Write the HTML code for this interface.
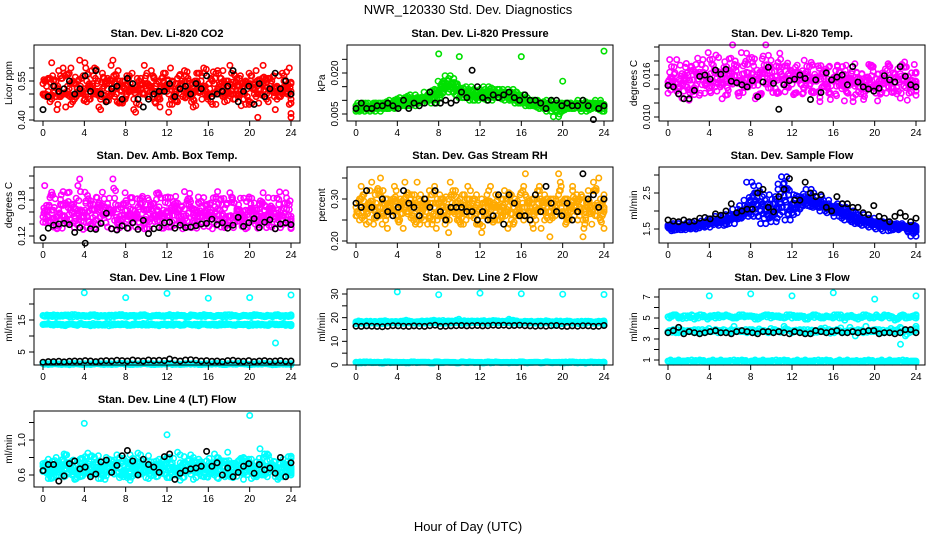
<!DOCTYPE html>
<html><head><meta charset="utf-8"><style>
body{margin:0;background:#fff}
svg{display:block;font-family:"Liberation Sans",Arial,sans-serif}
</style></head><body>
<svg id="c" width="936" height="540" viewBox="0 0 936 540" xmlns="http://www.w3.org/2000/svg">
<text x="468" y="14" text-anchor="middle" font-size="13">NWR_120330  Std. Dev. Diagnostics</text>
<text x="468" y="531" text-anchor="middle" font-size="13">Hour of Day (UTC)</text>
</svg>
<script>
// ---------- data ----------
const xTicks = [0,4,8,12,16,20,24];
const co2Red1 = [0.50,0.53,0.47,0.55,0.52,0.49,0.58,0.51,0.46,0.54,0.50,0.56,0.48,0.53,0.59,0.50,0.45,0.52,0.55,0.49,0.51,0.57,0.47,0.53,0.50,0.54,0.48,0.56,0.52,0.61,0.49,0.53,0.47,0.55,0.51,0.58,0.50,0.46,0.54,0.52,0.49,0.57,0.51,0.48,0.55,0.53,0.60,0.50,0.47,0.54,0.52,0.56,0.49,0.51,0.58,0.48,0.53,0.50,0.55,0.46,0.52,0.59,0.50,0.54,0.48,0.56,0.51,0.53,0.49,0.57,0.52,0.50];
const co2Red2 = [0.54,0.49,0.56,0.51,0.44,0.57,0.50,0.53,0.60,0.48,0.55,0.51,0.62,0.49,0.52,0.56,0.50,0.58,0.47,0.54,0.63,0.50,0.55,0.48,0.57,0.51,0.44,0.53,0.56,0.50,0.54,0.59,0.51,0.48,0.56,0.52,0.43,0.55,0.50,0.57,0.53,0.49,0.54,0.45,0.58,0.51,0.53,0.49,0.56,0.50,0.59,0.53,0.47,0.55,0.51,0.57,0.50,0.54,0.46,0.58,0.52,0.49,0.55,0.61,0.50,0.53,0.57,0.48,0.52,0.55,0.50,0.41];
const co2Black = [0.44,0.49,0.53,0.51,0.52,0.55,0.50,0.52,0.57,0.51,0.59,0.50,0.47,0.52,0.53,0.48,0.56,0.54,0.48,0.45,0.48,0.50,0.51,0.51,0.54,0.49,0.52,0.53,0.50,0.54,0.52,0.57,0.49,0.50,0.51,0.53,0.59,0.47,0.51,0.53,0.46,0.54,0.49,0.52,0.58,0.52,0.55,0.50];
const presGreen1 = [0.006,0.007,0.008,0.007,0.006,0.008,0.007,0.009,0.007,0.008,0.009,0.007,0.008,0.010,0.008,0.009,0.011,0.008,0.010,0.009,0.011,0.010,0.012,0.009,0.011,0.013,0.016,0.014,0.018,0.015,0.012,0.014,0.011,0.013,0.010,0.012,0.011,0.014,0.012,0.010,0.013,0.011,0.014,0.012,0.010,0.011,0.013,0.010,0.009,0.011,0.008,0.010,0.009,0.008,0.007,0.009,0.006,0.008,0.007,0.009,0.008,0.007,0.008,0.009,0.007,0.008,0.006,0.009,0.008,0.007,0.009,0.008];
const presGreen2 = [0.008,0.006,0.009,0.008,0.007,0.009,0.008,0.006,0.009,0.007,0.008,0.010,0.009,0.008,0.011,0.010,0.009,0.012,0.009,0.011,0.010,0.013,0.010,0.012,0.014,0.017,0.015,0.019,0.013,0.016,0.014,0.011,0.013,0.015,0.012,0.010,0.013,0.011,0.015,0.013,0.012,0.014,0.011,0.013,0.012,0.014,0.011,0.009,0.012,0.010,0.009,0.008,0.010,0.009,0.007,0.008,0.010,0.009,0.004,0.006,0.009,0.008,0.007,0.009,0.008,0.010,0.007,0.008,0.009,0.007,0.010,0.008];
const presOutHours = [8,10,16,20,24];
const presOutValues = [0.027,0.026,0.026,0.017,0.028];
const presBlack = [0.007,0.009,0.007,0.007,0.008,0.008,0.009,0.008,0.007,0.010,0.007,0.009,0.008,0.009,0.013,0.009,0.009,0.010,0.009,0.010,0.013,0.011,0.021,0.015,0.011,0.010,0.012,0.011,0.012,0.013,0.011,0.010,0.012,0.010,0.010,0.009,0.007,0.010,0.010,0.008,0.009,0.008,0.008,0.010,0.008,0.003,0.007,0.008];
const tempMag1 = [0.0150,0.0172,0.0141,0.0133,0.0162,0.0144,0.0124,0.0153,0.0175,0.0131,0.0164,0.0146,0.0182,0.0151,0.0137,0.0163,0.0171,0.0142,0.0184,0.0158,0.0134,0.0152,0.0176,0.0143,0.0161,0.0126,0.0155,0.0183,0.0147,0.0166,0.0135,0.0173,0.0191,0.0154,0.0145,0.0167,0.0132,0.0174,0.0156,0.0141,0.0165,0.0178,0.0153,0.0136,0.0162,0.0147,0.0171,0.0152,0.0133,0.0164,0.0145,0.0174,0.0151,0.0128,0.0163,0.0142,0.0125,0.0157,0.0172,0.0146,0.0161,0.0134,0.0155,0.0176,0.0143,0.0162,0.0137,0.0154,0.0171,0.0144,0.0152,0.0163];
const tempMag2 = [0.0134,0.0156,0.0163,0.0142,0.0127,0.0171,0.0153,0.0136,0.0145,0.0164,0.0182,0.0152,0.0137,0.0174,0.0155,0.0143,0.0166,0.0132,0.0154,0.0175,0.0148,0.0192,0.0144,0.0163,0.0185,0.0157,0.0131,0.0162,0.0203,0.0172,0.0151,0.0135,0.0164,0.0146,0.0173,0.0154,0.0132,0.0165,0.0147,0.0181,0.0152,0.0136,0.0161,0.0173,0.0142,0.0165,0.0134,0.0153,0.0166,0.0145,0.0172,0.0137,0.0156,0.0122,0.0164,0.0143,0.0133,0.0152,0.0174,0.0146,0.0123,0.0155,0.0162,0.0144,0.0136,0.0161,0.0153,0.0175,0.0142,0.0134,0.0151,0.0147];
const tempBlack = [0.0145,0.0143,0.0133,0.0126,0.0126,0.0138,0.0158,0.0160,0.0154,0.0167,0.0161,0.0168,0.0151,0.0149,0.0146,0.0143,0.0152,0.0129,0.0150,0.0171,0.0148,0.0111,0.0146,0.0152,0.0154,0.0160,0.0155,0.0125,0.0153,0.0135,0.0163,0.0153,0.0157,0.0160,0.0146,0.0172,0.0150,0.0143,0.0140,0.0137,0.0141,0.0159,0.0153,0.0150,0.0172,0.0158,0.0146,0.0143];
const boxMag1 = [0.152,0.171,0.143,0.163,0.132,0.181,0.154,0.141,0.172,0.134,0.162,0.151,0.193,0.145,0.164,0.133,0.172,0.156,0.142,0.183,0.161,0.131,0.153,0.174,0.144,0.165,0.152,0.182,0.135,0.163,0.146,0.171,0.155,0.162,0.133,0.184,0.151,0.143,0.175,0.164,0.132,0.154,0.181,0.145,0.163,0.152,0.136,0.173,0.154,0.142,0.165,0.182,0.134,0.153,0.176,0.143,0.162,0.151,0.132,0.185,0.164,0.145,0.172,0.153,0.134,0.161,0.183,0.142,0.155,0.174,0.146,0.133];
const boxMag2 = [0.143,0.162,0.184,0.135,0.152,0.173,0.146,0.192,0.164,0.153,0.204,0.145,0.163,0.182,0.136,0.154,0.175,0.193,0.142,0.165,0.215,0.151,0.134,0.172,0.163,0.184,0.143,0.156,0.174,0.132,0.183,0.165,0.144,0.192,0.153,0.176,0.135,0.164,0.186,0.152,0.144,0.173,0.191,0.155,0.133,0.162,0.184,0.146,0.175,0.153,0.194,0.135,0.166,0.143,0.185,0.154,0.172,0.136,0.163,0.182,0.145,0.156,0.174,0.192,0.143,0.165,0.152,0.183,0.134,0.166,0.175,0.144];
const boxBlack = [0.117,0.133,0.138,0.140,0.141,0.139,0.126,0.134,0.108,0.132,0.131,0.141,0.158,0.132,0.130,0.137,0.133,0.142,0.131,0.146,0.124,0.132,0.134,0.142,0.143,0.133,0.138,0.134,0.135,0.137,0.140,0.141,0.148,0.139,0.142,0.133,0.138,0.151,0.136,0.142,0.149,0.134,0.143,0.147,0.132,0.140,0.142,0.139];
const rhOrange1 = [0.28,0.25,0.31,0.27,0.29,0.24,0.32,0.28,0.26,0.30,0.27,0.33,0.25,0.29,0.28,0.31,0.26,0.24,0.30,0.28,0.27,0.32,0.25,0.29,0.27,0.30,0.26,0.28,0.31,0.25,0.29,0.27,0.33,0.26,0.28,0.24,0.30,0.27,0.29,0.25,0.31,0.28,0.26,0.30,0.24,0.28,0.27,0.31,0.25,0.29,0.28,0.26,0.32,0.27,0.25,0.30,0.28,0.26,0.31,0.29,0.24,0.28,0.33,0.27,0.30,0.25,0.29,0.28,0.32,0.26,0.30,0.27];
const rhOrange2 = [0.26,0.30,0.27,0.24,0.32,0.28,0.26,0.35,0.29,0.23,0.27,0.30,0.26,0.28,0.34,0.27,0.31,0.29,0.25,0.27,0.30,0.26,0.29,0.23,0.31,0.28,0.25,0.34,0.27,0.29,0.24,0.31,0.28,0.26,0.30,0.27,0.22,0.29,0.32,0.26,0.28,0.25,0.30,0.27,0.31,0.24,0.29,0.26,0.33,0.28,0.25,0.30,0.27,0.23,0.31,0.29,0.26,0.28,0.36,0.27,0.30,0.25,0.32,0.28,0.26,0.21,0.30,0.27,0.34,0.29,0.25,0.28];
const rhBlack = [0.29,0.28,0.32,0.28,0.26,0.30,0.27,0.26,0.28,0.32,0.29,0.28,0.26,0.30,0.28,0.32,0.27,0.25,0.28,0.28,0.28,0.27,0.27,0.25,0.27,0.25,0.26,0.31,0.24,0.31,0.29,0.26,0.26,0.25,0.31,0.27,0.33,0.29,0.27,0.26,0.29,0.25,0.27,0.36,0.30,0.31,0.28,0.30];
const flowBlue1 = [1.55,1.50,1.60,1.52,1.58,1.48,1.62,1.55,1.60,1.53,1.65,1.58,1.70,1.62,1.75,1.68,1.72,1.80,1.75,1.85,1.78,1.90,2.00,1.85,2.10,2.30,2.70,2.40,2.00,1.80,2.20,1.70,1.90,2.60,2.95,2.30,1.90,2.20,2.10,2.25,2.35,2.20,2.30,2.15,2.25,2.10,2.20,2.05,2.15,1.95,2.00,2.10,1.85,1.90,1.80,1.85,1.70,1.75,1.65,1.80,1.60,1.65,1.55,1.70,1.58,1.62,1.52,1.60,1.55,1.58,1.50,1.55];
const flowBlue2 = [1.60,1.45,1.55,1.65,1.48,1.58,1.52,1.68,1.50,1.62,1.58,1.72,1.55,1.78,1.65,1.85,1.60,1.70,1.90,1.65,2.05,1.80,2.15,1.95,2.80,2.05,1.85,2.20,1.65,2.45,1.90,2.05,2.20,2.75,2.10,1.75,2.45,1.95,2.35,2.40,2.15,2.60,2.25,2.10,2.40,2.00,2.30,1.95,2.10,1.85,2.20,1.95,1.75,2.00,1.70,1.65,1.90,1.60,1.75,1.55,1.70,1.50,1.68,1.45,1.62,1.55,1.48,1.65,1.52,1.60,1.45,1.30];
const flowBlack = [1.75,1.72,1.70,1.75,1.70,1.72,1.80,1.82,1.78,1.92,1.88,2.00,2.20,1.95,2.00,2.05,2.05,2.50,2.60,2.10,1.98,2.40,2.60,2.90,2.30,2.30,2.80,2.50,2.40,2.45,2.10,2.00,2.40,2.20,2.20,2.10,2.10,1.95,1.90,2.15,1.85,1.80,1.70,1.85,1.95,1.85,1.70,1.80];
const l1High = [16.4,16.1,16.6,16.2,16.5,16.0,16.7,16.3,16.1,16.6,16.2,16.4,16.0,16.5,16.3,16.7,16.1,16.4,16.2,16.6,16.0,16.3,16.5,16.1,16.7,16.2,16.4,16.0,16.6,16.3,16.1,16.5,16.2,16.4,16.0,16.6,16.3,16.1,16.5,16.2,16.7,16.4,16.0,16.3,16.6,16.1,16.4,16.2];
const l1Low = [13.6,13.9,13.4,13.7,13.3,13.8,13.5,13.9,13.6,13.2,13.7,13.5,13.9,13.4,13.6,13.8,13.3,13.7,13.5,13.9,13.4,13.6,13.2,13.8,13.5,13.7,13.3,13.9,13.6,13.4,13.8,13.5,13.7,13.3,13.9,13.6,13.4,13.8,13.5,13.2,13.7,13.6,13.4,13.8,13.5,13.7,13.3,13.6];
const l1Bottom = [1.3,1.1,1.4,1.2,1.3,1.0,1.4,1.2,1.3,1.1,1.4,1.2,1.3,1.1,1.2,1.4,1.3,1.1,1.2,1.4,1.3,1.1,1.2,1.3,1.4,1.2,1.1,1.3,1.2,1.4,1.1,1.3,1.2,1.4,1.1,1.3,1.2,1.4,1.3,1.1,1.2,1.3,1.4,1.2,1.1,1.3,1.2,1.3];
const l1OutHours = [4,8,12,16,20,22.5,24];
const l1OutValues = [23.5,22.0,23.3,21.8,22.0,7.8,22.8];
const l1Black = [1.8,2.0,2.0,2.1,1.9,2.1,2.2,2.1,2.3,2.2,2.0,2.2,2.3,2.2,2.4,2.3,2.2,2.5,2.3,2.2,2.5,2.3,2.4,2.3,2.8,2.4,2.2,2.5,2.6,2.4,2.2,2.3,2.1,2.2,2.0,2.3,2.4,2.2,2.1,2.3,2.0,2.2,2.3,2.1,2.2,2.3,2.1,2.2];
const l2Band1 = [18.2,17.6,18.5,17.8,18.1,17.5,18.4,17.9,18.2,17.6,18.6,17.8,18.3,17.7,18.5,18.0,17.6,18.4,17.8,18.9,17.7,18.3,18.6,17.9,18.2,17.6,18.8,17.8,18.4,19.3,18.0,17.7,18.5,17.9,18.3,17.6,18.7,17.8,18.1,17.5,18.6,17.9,18.2,17.7,18.5,17.6,17.9,16.8];
const l2Band2 = [17.5,18.4,17.8,18.2,17.6,18.5,17.9,18.3,17.7,18.6,17.8,18.1,17.6,18.4,17.8,18.7,18.2,17.7,18.5,18.0,18.4,17.8,18.1,18.6,17.7,18.4,18.0,18.6,17.9,18.3,18.7,18.1,17.8,18.4,17.7,18.5,17.9,18.2,18.6,17.8,18.3,17.6,18.4,17.9,18.2,17.8,18.5,18.0];
const l2Bottom = [1.2,0.9,1.3,1.0,1.2,0.8,1.3,1.1,1.0,1.2,0.9,1.3,1.1,1.2,0.9,1.3,1.0,1.2,1.1,0.9,1.3,1.0,1.2,1.1,0.9,1.3,1.0,1.2,1.1,0.9,1.2,1.3,1.0,1.1,1.2,0.9,1.3,1.0,1.1,1.2,1.0,1.3,0.9,1.1,1.2,1.0,1.2,1.1];
const l2OutHours = [4,8,12,16,20,24];
const l2OutValues = [30.9,29.7,30.4,30.1,29.9,29.8];
const l2Black = [16.4,16.3,16.5,16.4,16.3,16.2,16.4,16.6,16.5,16.4,16.3,16.5,16.4,16.3,16.6,16.8,16.3,16.4,16.5,16.6,16.7,16.5,16.6,16.7,16.5,16.6,16.8,16.7,16.8,16.6,16.7,16.8,16.6,16.5,16.4,16.5,16.4,16.6,16.7,16.4,16.3,16.5,16.4,16.6,16.5,16.3,16.4,16.7];
const l3High = [5.1,5.3,5.0,5.2,5.1,4.9,5.3,5.1,5.2,5.0,5.2,5.3,5.1,5.0,5.3,5.2,5.1,4.9,5.2,5.3,5.1,5.2,5.0,5.3,5.1,5.2,4.9,5.1,5.3,5.0,5.2,5.1,5.3,5.0,5.2,5.1,4.9,5.3,5.2,5.0,5.1,5.3,5.0,4.8,5.2,5.0,5.1,5.3];
const l3Mid = [3.7,3.9,3.6,3.8,3.7,3.9,3.6,3.8,3.7,3.9,3.8,3.6,3.9,3.7,3.8,3.6,3.9,3.7,3.8,3.6,3.9,3.7,4.2,3.8,3.7,3.9,3.6,3.8,3.7,4.0,3.8,3.7,3.9,3.6,3.8,3.7,3.9,3.6,3.8,3.7,3.9,3.6,3.8,3.7,4.1,3.3,3.8,4.2];
const l3Bottom = [0.9,0.8,1.0,0.9,0.8,0.9,1.0,0.8,0.9,0.8,1.0,0.9,0.8,0.9,1.0,0.8,0.9,0.8,1.0,0.9,0.8,0.9,1.0,0.8,0.9,0.8,1.0,0.9,0.8,0.9,1.0,0.8,0.9,0.8,1.0,0.9,0.8,0.9,1.0,0.8,0.9,0.8,1.0,0.9,0.8,0.9,0.9,0.8];
const l3OutHours = [4,8,12,16,20,22.5,24];
const l3OutValues = [7.1,7.3,7.1,7.4,6.8,2.5,7.1];
const l3Black = [3.6,3.8,4.1,3.5,3.7,3.6,3.5,3.6,3.7,3.8,3.6,3.6,3.5,3.7,3.8,3.7,3.6,3.5,3.7,3.7,3.6,3.7,3.6,3.5,3.7,3.6,3.5,3.5,3.8,3.7,3.6,3.7,3.8,3.6,3.6,3.7,3.6,3.7,3.8,3.8,3.5,3.6,3.6,3.5,3.6,3.9,3.9,3.6];
const l4Cyan1 = [0.70,0.62,0.75,0.66,0.58,0.72,0.64,0.78,0.68,0.60,0.74,0.66,0.80,0.70,0.62,0.76,0.67,0.59,0.73,0.65,0.82,0.70,0.63,0.77,0.68,0.60,0.74,0.66,0.71,0.57,0.75,0.67,0.62,0.79,0.69,0.61,0.73,0.66,0.80,0.70,0.58,0.74,0.65,0.77,0.69,0.62,0.72,0.66];
const l4Cyan2 = [0.64,0.78,0.58,0.71,0.84,0.66,0.55,0.74,0.62,0.81,0.69,0.56,0.72,0.65,0.83,0.60,0.73,0.68,0.85,0.63,0.56,0.75,0.69,0.61,0.80,0.66,0.54,0.72,0.83,0.64,0.59,0.76,0.68,0.57,0.74,0.86,0.63,0.71,0.55,0.78,0.67,0.61,0.84,0.70,0.58,0.73,0.65,0.79];
const l4Cyan3 = [0.73,0.56,0.68,0.60,0.76,0.70,0.63,0.58,0.81,0.66,0.72,0.62,0.59,0.77,0.71,0.64,0.57,0.79,0.62,0.72,0.66,0.60,0.78,0.71,0.57,0.64,0.83,0.69,0.61,0.75,0.66,0.58,0.72,0.80,0.63,0.68,0.57,0.76,0.65,0.73,0.62,0.79,0.60,0.66,0.75,0.58,0.70,0.63];
const l4OutHours = [4,12,20,21];
const l4OutValues = [1.19,1.06,1.28,0.90];
const l4Black = [0.65,0.72,0.72,0.53,0.59,0.73,0.76,0.67,0.69,0.58,0.61,0.75,0.77,0.63,0.71,0.82,0.88,0.76,0.60,0.78,0.72,0.69,0.63,0.81,0.84,0.55,0.62,0.65,0.67,0.68,0.70,0.87,0.70,0.74,0.60,0.68,0.58,0.63,0.70,0.73,0.62,0.72,0.66,0.68,0.62,0.80,0.58,0.74];

// ---------- panel layout ----------
const NS = 'http://www.w3.org/2000/svg';
const svg = document.getElementById('c');
const colLeft = [34,347,659], rowTop = [45,167,289,411], W = 266, H = 76;
function mk(tag, attrs, parent){
  const e = document.createElementNS(NS, tag);
  for (const k in attrs) e.setAttribute(k, attrs[k]);
  (parent||svg).appendChild(e);
  return e;
}
function panel(p){
  const L = colLeft[p.col], T = rowTop[p.row], B = T + H;
  const g = mk('g', {});
  
  
  const xs = h => L + 9 + h * 248 / 24;
  const ys = v => p.y0 + (v - p.v0) * (p.y1 - p.y0) / (p.v1 - p.v0);
  const t = mk('text', {x: L + W/2, y: T - 8, 'text-anchor':'middle', 'font-size':11, 'font-weight':'bold'}, g);
  t.textContent = p.title;
  
  
  // series: dense colored series are drawn several times, each pass sampling
  // a different (nearby) index of the same data array at interleaved hours
  const drawSet = (vals, hours, color, nm, passes, shift) => {
    const sg = mk('g', {fill:'none', stroke:color, 'stroke-width':1.6}, g);
    
    
    const n = vals.length;
    for (let k = 0; k < passes; k++) {
      vals.forEach((_, i) => {
        const h = hours ? hours[i] : Math.min(24, (i + k / passes) * 24 / (n - 1));
        const j = (i + k * shift) % n;
        const v = k % 2 ? (vals[i] + vals[j]) / 2 : vals[j];
        const c = mk('circle', {cx: xs(h).toFixed(1), cy: ys(v).toFixed(1), r: 2.7}, sg);
        
        
      });
    }
  };
  p.series.forEach(s => {
    const dense = !s.hours && s.color !== BLK;
    drawSet(s.values, s.hours, s.color, p.id + '-' + s.name, dense ? 4 : 1, p.shift || 1);
  });
  // box
  const bx = mk('rect', {x:L, y:T, width:W, height:H, fill:'none', stroke:'#000', 'stroke-width':1}, g);
  
  
  // x axis
  xTicks.forEach(h => {
    mk('line', {x1:xs(h), x2:xs(h), y1:B, y2:B+5, stroke:'#000'}, g);
    const tl = mk('text', {x:xs(h), y:B+15, 'text-anchor':'middle', 'font-size':10}, g);
    tl.textContent = h;
    
    
  });
  // y axis
  p.yTicks.forEach(v => mk('line', {x1:L-5, x2:L, y1:ys(v), y2:ys(v), stroke:'#000'}, g));
  p.yLabelValues.forEach((v, i) => {
    const yy = ys(v);
    const tl = mk('text', {x:0, y:0, 'text-anchor':'middle', 'font-size':10, transform:`translate(${L-9},${yy}) rotate(-90)`}, g);
    tl.textContent = p.yLabels[i];
    
    
  });
  const yt = mk('text', {x:0, y:0, 'text-anchor':'middle', 'font-size':10, transform:`translate(${L-22},${T+H/2}) rotate(-90)`}, g);
  yt.textContent = p.yTitle;
  
  
}
const RED='#ff0000', GRN='#00e000', MAG='#ff00ff', ORG='#ffaa00', BLU='#0000ff', CYA='#00ffff', BLK='#000';
panel({id:'co2', col:0,row:0,title:'Stan. Dev. Li-820 CO2', yTitle:'Licor ppm', v0:0.40,y0:120,v1:0.55,y1:81, shift:5,
  yTicks:[0.40,0.45,0.50,0.55,0.60], yLabelValues:[0.40,0.55], yLabels:['0.40','0.55'],
  series:[{name:'red-a',values:co2Red1,color:RED},{name:'red-b',values:co2Red2,color:RED},{name:'black',values:co2Black,color:BLK}]});
panel({id:'pressure', col:1,row:0,title:'Stan. Dev. Li-820 Pressure', yTitle:'kPa', v0:0.005,y0:114,v1:0.020,y1:73, shift:1,
  yTicks:[0.005,0.010,0.015,0.020,0.025], yLabelValues:[0.005,0.020], yLabels:['0.005','0.020'],
  series:[{name:'green-a',values:presGreen1,color:GRN},{name:'green-b',values:presGreen2,color:GRN},{name:'green-outliers',values:presOutValues,hours:presOutHours,color:GRN},{name:'black',values:presBlack,color:BLK}]});
panel({id:'temp', col:2,row:0,title:'Stan. Dev. Li-820 Temp.', yTitle:'degrees C', v0:0.010,y0:117,v1:0.016,y1:75, shift:5,
  yTicks:[0.010,0.012,0.014,0.016,0.018,0.020], yLabelValues:[0.010,0.016], yLabels:['0.010','0.016'],
  series:[{name:'magenta-a',values:tempMag1,color:MAG},{name:'magenta-b',values:tempMag2,color:MAG},{name:'black',values:tempBlack,color:BLK}]});
panel({id:'box-temp', col:0,row:1,title:'Stan. Dev. Amb. Box Temp.', yTitle:'degrees C', v0:0.12,y0:236,v1:0.18,y1:200, shift:5,
  yTicks:[0.12,0.14,0.16,0.18,0.20,0.22], yLabelValues:[0.12,0.18], yLabels:['0.12','0.18'],
  series:[{name:'magenta-a',values:boxMag1,color:MAG},{name:'magenta-b',values:boxMag2,color:MAG},{name:'black',values:boxBlack,color:BLK}]});
panel({id:'rh', col:1,row:1,title:'Stan. Dev. Gas Stream RH', yTitle:'percent', v0:0.20,y0:241,v1:0.30,y1:199, shift:5,
  yTicks:[0.20,0.25,0.30,0.35], yLabelValues:[0.20,0.30], yLabels:['0.20','0.30'],
  series:[{name:'orange-a',values:rhOrange1,color:ORG},{name:'orange-b',values:rhOrange2,color:ORG},{name:'black',values:rhBlack,color:BLK}]});
panel({id:'sample-flow', col:2,row:1,title:'Stan. Dev. Sample Flow', yTitle:'ml/min', v0:1.5,y0:229,v1:2.5,y1:193, shift:1,
  yTicks:[1.5,2.0,2.5,3.0], yLabelValues:[1.5,2.5], yLabels:['1.5','2.5'],
  series:[{name:'blue-a',values:flowBlue1,color:BLU},{name:'blue-b',values:flowBlue2,color:BLU},{name:'black',values:flowBlack,color:BLK}]});
panel({id:'line1', col:0,row:2,title:'Stan. Dev. Line 1 Flow', yTitle:'ml/min', v0:5,y0:352,v1:15,y1:320, shift:5,
  yTicks:[5,10,15,20], yLabelValues:[5,15], yLabels:['5','15'],
  series:[{name:'cyan-high',values:l1High,color:CYA},{name:'cyan-low',values:l1Low,color:CYA},{name:'cyan-bottom',values:l1Bottom,color:CYA},{name:'cyan-outliers',values:l1OutValues,hours:l1OutHours,color:CYA},{name:'black',values:l1Black,color:BLK}]});
panel({id:'line2', col:1,row:2,title:'Stan. Dev. Line 2 Flow', yTitle:'ml/min', v0:0,y0:365,v1:30,y1:294, shift:5,
  yTicks:[0,5,10,15,20,25,30], yLabelValues:[0,10,20,30], yLabels:['0','10','20','30'],
  series:[{name:'cyan-a',values:l2Band1,color:CYA},{name:'cyan-b',values:l2Band2,color:CYA},{name:'cyan-bottom',values:l2Bottom,color:CYA},{name:'cyan-outliers',values:l2OutValues,hours:l2OutHours,color:CYA},{name:'black',values:l2Black,color:BLK}]});
panel({id:'line3', col:2,row:2,title:'Stan. Dev. Line 3 Flow', yTitle:'ml/min', v0:1,y0:360,v1:7,y1:297, shift:5,
  yTicks:[1,2,3,4,5,6,7], yLabelValues:[1,3,5,7], yLabels:['1','3','5','7'],
  series:[{name:'cyan-high',values:l3High,color:CYA},{name:'cyan-mid',values:l3Mid,color:CYA},{name:'cyan-bottom',values:l3Bottom,color:CYA},{name:'cyan-outliers',values:l3OutValues,hours:l3OutHours,color:CYA},{name:'black',values:l3Black,color:BLK}]});
panel({id:'line4', col:0,row:3,title:'Stan. Dev. Line 4 (LT) Flow', yTitle:'ml/min', v0:0.6,y0:475,v1:1.0,y1:440, shift:5,
  yTicks:[0.6,0.8,1.0,1.2], yLabelValues:[0.6,1.0], yLabels:['0.6','1.0'],
  series:[{name:'cyan-a',values:l4Cyan1,color:CYA},{name:'cyan-b',values:l4Cyan2,color:CYA},{name:'cyan-c',values:l4Cyan3,color:CYA},{name:'cyan-outliers',values:l4OutValues,hours:l4OutHours,color:CYA},{name:'black',values:l4Black,color:BLK}]});
</script>
</body></html>
